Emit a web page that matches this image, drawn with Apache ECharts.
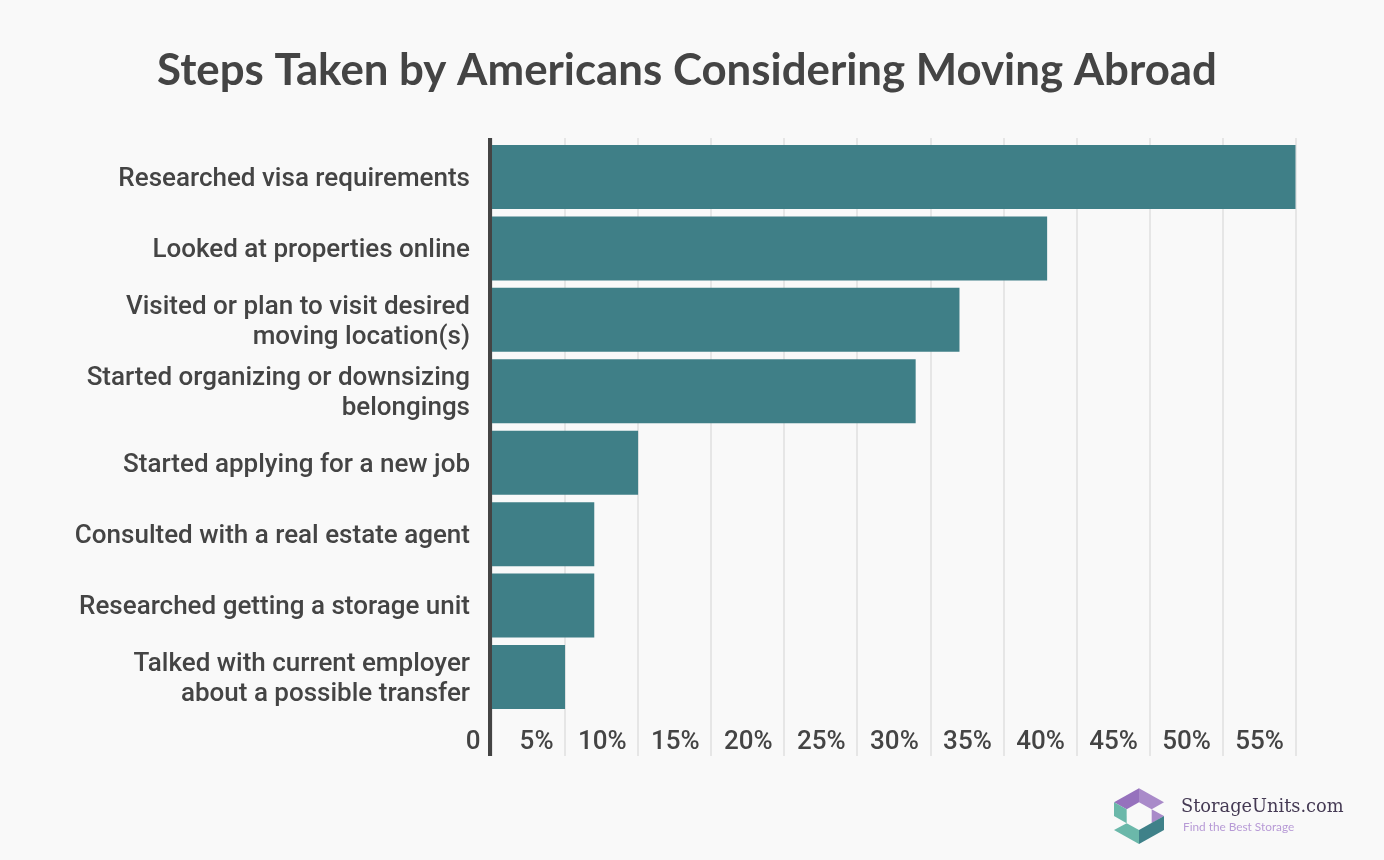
<!DOCTYPE html>
<html>
<head>
<meta charset="utf-8">
<title>Steps Taken by Americans Considering Moving Abroad</title>
<script src="https://cdn.jsdelivr.net/npm/echarts@6/dist/echarts.min.js"></script>
<style>
  html, body { margin: 0; padding: 0; background: #f9f9f9; }
  #chart { width: 1384px; height: 860px; }
</style>
</head>
<body>
<div id="chart"></div>
<script>
var categories = [
    'Researched visa requirements',
    'Looked at properties online',
    'Visited or plan to visit desired\nmoving location(s)',
    'Started organizing or downsizing\nbelongings',
    'Started applying for a new job',
    'Consulted with a real estate agent',
    'Researched getting a storage unit',
    'Talked with current employer\nabout a possible transfer'
];
var percents = [55, 38, 32, 29, 10, 7, 7, 5];

var axisMax = 55;
var tickStep = 5;
var textColor = '#444444';

// logo pieces, points are in page pixels
function logoPoly(points, color) {
    return {
        type: 'polygon',
        shape: { points: points.map(function (p) { return [1090 + p[0] / 3, 770 + p[1] / 3]; }) },
        style: { fill: color }
    };
}

var myChart = echarts.init(document.getElementById('chart'));
var option = {
    backgroundColor: '#f9f9f9',
    animation: false,
    title: {
        text: 'Steps Taken by Americans Considering Moving Abroad',
        left: 682,
        top: 44,
        textAlign: 'center',
        textStyle: {
            fontFamily: 'Lato',
            fontSize: 43.8,
            fontWeight: 700,
            color: textColor
        }
    },
    grid: [
        // taller grid only carries the gridlines and percent labels
        { left: 492, top: 138, width: 803.5, height: 618 },
        { left: 492, top: 141.3, width: 803.5, height: 571.4 },
        // same bands a little lower, category labels sit slightly under bar centres
        { left: 492, top: 143.6, width: 803.5, height: 571.4 },
        // dark axis line sits just left of the zero position
        { left: 490, top: 138, width: 803.5, height: 618 }
    ],
    xAxis: [
        {
            type: 'value',
            gridIndex: 0,
            min: 0,
            max: axisMax,
            interval: tickStep,
            axisLine: { show: false },
            axisTick: { show: false },
            splitLine: { show: true, lineStyle: { color: '#e6e6e6', width: 2 } },
            axisLabel: {
                inside: true,
                margin: 1,
                align: 'right',
                padding: [0, 11.5, 0, 0],
                fontFamily: 'Roboto',
                fontSize: 26,
                fontWeight: 500,
                color: textColor,
                showMinLabel: true,
                showMaxLabel: true,
                formatter: function (v) { return v === 0 ? '0' : v + '%'; }
            }
        },
        { type: 'value', gridIndex: 1, min: 0, max: axisMax, interval: tickStep, show: false },
        { type: 'value', gridIndex: 2, min: 0, max: axisMax, interval: tickStep, show: false },
        { type: 'value', gridIndex: 3, min: 0, max: axisMax, interval: tickStep, show: false }
    ],
    yAxis: [
        {
            type: 'category',
            gridIndex: 0,
            data: [''],
            axisLine: { show: false },
            axisTick: { show: false },
            axisLabel: { show: false }
        },
        {
            type: 'category',
            gridIndex: 1,
            inverse: true,
            data: categories,
            axisLine: { show: false },
            axisTick: { show: false },
            axisLabel: { show: false }
        },
        {
            type: 'category',
            gridIndex: 2,
            inverse: true,
            data: categories,
            axisLine: { show: false },
            axisTick: { show: false },
            axisLabel: {
                margin: 22,
                align: 'right',
                fontFamily: 'Roboto',
                fontSize: 26,
                fontWeight: 500,
                lineHeight: 30,
                color: textColor,
                interval: 0
            }
        },
        {
            type: 'category',
            gridIndex: 3,
            data: [''],
            axisLine: { show: true, lineStyle: { color: '#444444', width: 4, cap: 'butt' } },
            axisTick: { show: false },
            axisLabel: { show: false }
        }
    ],
    series: [
        {
            type: 'bar',
            xAxisIndex: 1,
            yAxisIndex: 1,
            data: percents,
            barCategoryGap: '10.4%',
            itemStyle: { color: '#3f7f87' }
        }
    ],
    graphic: [
        logoPoly([[72, 97], [147, 55], [147, 97], [110, 118]], '#9672bd'),
        logoPoly([[147, 55], [222, 97], [185, 118], [147, 97]], '#a98ac9'),
        logoPoly([[72, 97], [110, 118], [110, 160], [72, 138]], '#6bb8aa'),
        logoPoly([[185, 118], [222, 138], [185, 160]], '#a98ac9'),
        logoPoly([[222, 138], [222, 180], [147, 222], [147, 180]], '#3f8189'),
        logoPoly([[72, 180], [110, 160], [147, 180], [147, 222]], '#6bb8aa'),
        {
            type: 'text',
            left: 1181,
            top: 798,
            style: {
                text: 'StorageUnits.com',
                font: '500 17.8px "DejaVu Serif"',
                fill: '#453a54'
            }
        },
        {
            type: 'text',
            left: 1183,
            top: 821,
            style: {
                text: 'Find the Best Storage',
                font: '11.8px Lato',
                fill: '#b79ad6'
            }
        }
    ]
};
myChart.setOption(option);
</script>
</body>
</html>
